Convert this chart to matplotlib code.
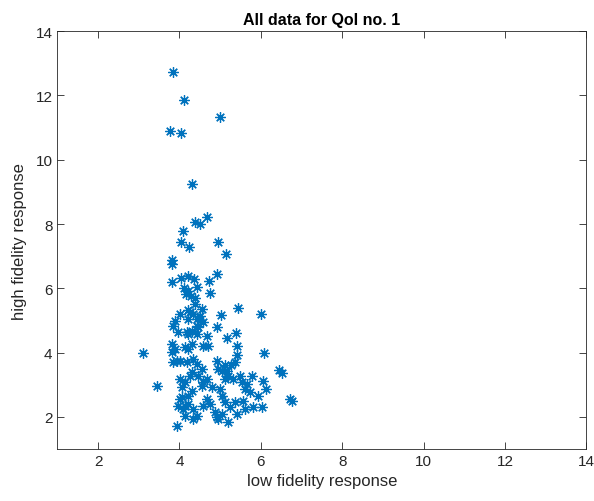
import matplotlib
matplotlib.use("Agg")
import matplotlib.pyplot as plt

plt.rcParams['font.family'] = ['Liberation Sans', 'DejaVu Sans']

low_fidelity = [
    3.84, 4.11, 5.00, 3.77, 4.04, 4.31, 4.67, 4.38, 4.51, 4.08,
    4.03, 4.24, 4.96, 5.14, 3.83, 3.83, 4.93, 3.83, 4.04, 4.22,
    4.37, 4.74, 4.76, 4.11, 4.20, 4.43, 4.29, 4.16, 4.38, 4.38,
    4.55, 4.20, 4.34, 4.51, 4.43, 3.89, 4.01, 3.85, 4.22, 4.59,
    4.46, 4.30, 4.92, 5.02, 5.45, 6.00, 5.38, 5.18, 5.41, 5.41,
    6.09, 3.97, 4.21, 4.43, 4.67, 4.59, 4.30, 4.14, 3.81, 3.89,
    3.85, 4.01, 4.18, 4.43, 4.55, 4.30, 4.46, 4.01, 4.14, 4.06,
    4.30, 4.22, 4.06, 3.97, 4.10, 4.22, 4.34, 4.43, 4.14, 4.34,
    4.59, 4.75, 4.67, 4.79, 4.59, 4.87, 4.96, 3.93, 4.92, 4.96,
    3.11, 3.44, 5.12, 5.04, 5.20, 5.32, 5.53, 5.65, 5.78, 5.61,
    5.73, 5.94, 6.06, 6.14, 5.00, 5.04, 5.12, 5.24, 5.37, 5.57,
    5.82, 6.02, 5.61, 5.41, 5.04, 4.92, 5.20, 6.45, 6.51, 6.72,
    6.77, 5.28, 5.37, 5.16, 5.49, 5.12, 4.71, 4.26, 4.18, 4.43,
    3.81, 3.93, 4.34, 4.22, 4.26, 4.55, 4.67, 4.01, 4.14,
]
high_fidelity = [
    12.73, 11.85, 11.33, 10.89, 10.83, 9.24, 8.21, 8.05, 8.00, 7.79,
    7.43, 7.30, 7.43, 7.06, 6.88, 6.77, 6.45, 6.19, 6.32, 6.38,
    6.29, 6.22, 5.85, 6.01, 5.93, 6.04, 5.76, 5.82, 5.70, 5.51,
    5.36, 5.34, 5.20, 5.15, 5.05, 4.99, 5.20, 4.84, 5.05, 4.94,
    4.79, 4.68, 4.79, 5.17, 5.39, 5.20, 4.62, 4.45, 4.22, 3.94,
    3.98, 4.63, 4.58, 4.58, 4.53, 4.22, 4.27, 4.17, 4.27, 4.11,
    3.70, 3.75, 3.70, 3.65, 3.49, 3.39, 3.28, 3.18, 3.08, 2.92,
    2.82, 2.66, 2.61, 2.35, 2.25, 2.41, 2.25, 2.04, 2.04, 1.94,
    2.35, 2.41, 2.56, 2.92, 3.08, 2.15, 1.94, 1.73, 3.75, 3.49,
    3.98, 2.97, 3.60, 3.44, 3.28, 3.18, 3.08, 3.03, 3.28, 2.87,
    2.77, 2.66, 3.13, 2.87, 2.87, 2.66, 2.46, 2.30, 2.46, 2.51,
    2.30, 2.30, 2.25, 2.09, 2.09, 1.99, 1.84, 3.46, 3.35, 2.56,
    2.51, 3.60, 3.70, 3.44, 3.28, 3.18, 4.22, 5.26, 4.63, 4.84,
    4.01, 3.75, 3.80, 4.11, 3.28, 2.97, 3.18, 2.56, 2.35,
]
ticks = [2, 4, 6, 8, 10, 12, 14]

fig = plt.figure(figsize=(5.94, 5.02), dpi=100)
ax = fig.add_axes([0.0965, 0.1035, 0.8905, 0.8325])
ax.plot(low_fidelity, high_fidelity, linestyle='none', marker=(8, 2, 0),
        markersize=7.5, markeredgewidth=0.9, color='#0072BD')
ax.set_xlim(1, 14)
ax.set_ylim(1, 14)
ax.set_xticks(ticks)
ax.set_yticks(ticks)
axc = '#262626'
ax.tick_params(direction='in', top=True, right=True, length=5, width=0.6,
               colors=axc, labelsize=11, labelcolor=axc)
for s in ax.spines.values():
    s.set_color(axc)
    s.set_linewidth(0.6)
ax.set_xlabel('low fidelity response', fontsize=12, color=axc, labelpad=4)
ax.set_ylabel('high fidelity response', fontsize=12, color=axc, labelpad=6)
ax.set_title('All data for QoI no. 1', fontsize=11.5, fontweight='bold', pad=5)
fig.savefig('out.png', dpi=100)
